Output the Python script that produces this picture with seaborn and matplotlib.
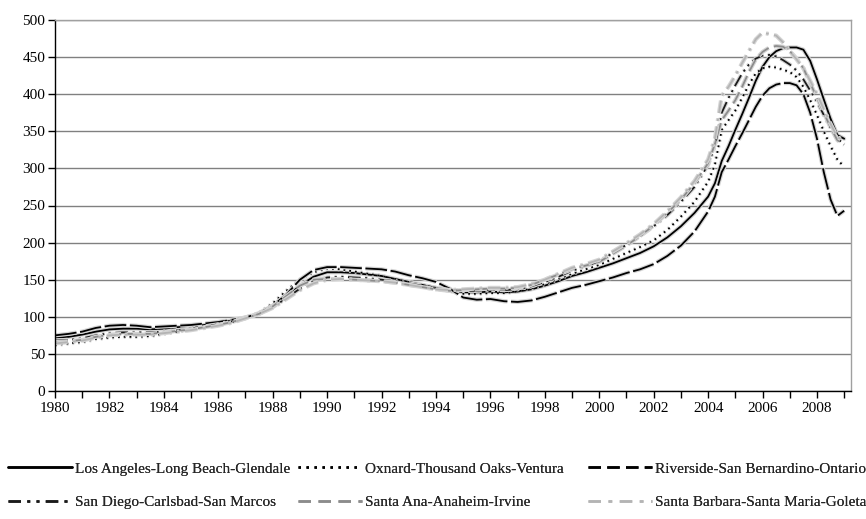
import numpy as np
import pandas as pd
import matplotlib
matplotlib.use("Agg")
import matplotlib.pyplot as plt
import matplotlib.patheffects as pe
from matplotlib.ticker import MultipleLocator, FuncFormatter
from matplotlib.lines import Line2D
import seaborn as sns

sns.set_style("white")
plt.rcParams["font.family"] = ["Liberation Serif", "DejaVu Serif"]

# time axis: half-years 1980-2003.5, quarters 2004-2009
years = list(np.arange(1980.0, 2004.0, 0.5)) + list(np.arange(2004.0, 2009.01, 0.25))

series_names = [
    "Los Angeles-Long Beach-Glendale",
    "Oxnard-Thousand Oaks-Ventura",
    "Riverside-San Bernardino-Ontario",
    "San Diego-Carlsbad-San Marcos",
    "Santa Ana-Anaheim-Irvine",
    "Santa Barbara-Santa Maria-Goleta",
]

los_angeles = [72, 73, 76, 80, 83, 84, 84, 83, 84, 86, 87, 89, 92, 95, 99, 104, 114, 127, 142, 154,
               160, 160, 159, 157, 155, 151, 147, 143, 139, 135, 133, 133, 134, 133, 134, 137, 142, 148, 155, 160,
               166, 172, 179, 186, 195, 207, 222, 240,
               262, 280, 310, 330, 352, 373, 395, 418, 437, 450, 458, 462, 463, 463, 460, 445, 420, 393, 367, 345, 340]
oxnard = [62, 64, 66, 70, 72, 73, 73, 74, 77, 80, 83, 86, 89, 93, 98, 105, 118, 135, 150, 160,
          165, 164, 161, 158, 155, 151, 147, 143, 139, 135, 131, 131, 132, 132, 134, 138, 144, 151, 158, 164,
          170, 178, 186, 194, 203, 217, 235, 255,
          282, 305, 352, 365, 378, 395, 413, 428, 435, 437, 436, 433, 430, 423, 410, 392, 372, 350, 330, 312, 302]
riverside = [75, 77, 80, 85, 88, 89, 88, 86, 87, 88, 89, 91, 93, 96, 99, 105, 115, 130, 150, 163,
             167, 167, 166, 165, 164, 161, 156, 152, 147, 138, 126, 123, 124, 121, 120, 122, 127, 133, 139, 143,
             148, 153, 159, 164, 171, 182, 196, 215,
             242, 262, 295, 312, 330, 347, 365, 383, 398, 408, 413, 415, 415, 412, 400, 375, 340, 295, 258, 236, 243]
san_diego = [68, 69, 71, 75, 78, 79, 79, 79, 80, 82, 84, 87, 90, 94, 99, 104, 113, 125, 138, 148,
             153, 154, 153, 152, 150, 148, 145, 142, 139, 136, 135, 135, 136, 136, 137, 141, 147, 154, 162, 168,
             175, 186, 197, 209, 222, 237, 255, 275,
             305, 330, 375, 395, 412, 428, 440, 448, 452, 453, 451, 446, 440, 432, 420, 405, 390, 372, 355, 340, 333]
santa_ana = [66, 67, 69, 73, 76, 77, 77, 77, 79, 81, 83, 86, 89, 93, 98, 104, 114, 128, 142, 150,
             151, 151, 150, 149, 148, 146, 143, 140, 137, 135, 136, 137, 138, 138, 139, 143, 150, 157, 164, 169,
             174, 185, 196, 209, 223, 240, 258, 280,
             307, 333, 365, 378, 392, 410, 430, 447, 457, 463, 465, 464, 458, 448, 435, 415, 395, 375, 355, 338, 332]
santa_barbara = [64, 66, 68, 72, 75, 76, 76, 76, 78, 80, 82, 85, 88, 92, 98, 104, 112, 124, 136, 145,
                 150, 151, 150, 149, 148, 146, 143, 140, 137, 136, 137, 138, 139, 139, 140, 144, 150, 158, 166, 171,
                 177, 188, 199, 211, 225, 242, 261, 283,
                 312, 340, 398, 410, 425, 442, 458, 474, 483, 481, 479, 470, 458, 447, 435, 418, 400, 380, 360, 342, 338]

series_values = [los_angeles, oxnard, riverside, san_diego, santa_ana, santa_barbara]
colors = ["#000000", "#000000", "#000000", "#1a1a1a", "#8c8c8c", "#b4b4b4"]
styles = ["-", (0, (1, 2.2)), (0, (12, 2)), (0, (7, 2.5, 1.2, 2.5, 1.2, 2.5)),
          (0, (7, 3)), (0, (7, 3, 1.5, 3))]
legend_styles = ["-", (0, (1, 2.2)), (0, (5, 2.5)), (0, (5, 2.5, 1.2, 2.5, 1.2, 2.5)),
                 (0, (5, 3)), (0, (5, 3, 1.5, 3))]

fig = plt.figure(figsize=(8.66, 5.19), dpi=100)
ax = fig.add_axes([55 / 866, 1 - 391 / 519, 796 / 866, 371 / 519])

halo = [pe.Stroke(linewidth=3.0, foreground="#d4d4d4"), pe.Normal()]
for name, vals, c, ls in zip(series_names, series_values, colors, styles):
    df = pd.DataFrame({"year": years, "value": vals})
    sns.lineplot(data=df, x="year", y="value", ax=ax, color=c, linestyle=ls,
                 linewidth=1.3, path_effects=halo, legend=False)

ax.set_xlim(1980, 2009.25)
ax.set_ylim(0, 500)
ax.set_xlabel("")
ax.set_ylabel("")
ax.yaxis.set_major_locator(MultipleLocator(50))
ax.xaxis.set_major_locator(MultipleLocator(1))
ax.xaxis.set_major_formatter(FuncFormatter(lambda v, p: f"{int(round(v))}" if int(round(v)) % 2 == 0 else ""))
ax.grid(axis="y", color="#808080", linewidth=1.0)
ax.set_axisbelow(True)
ax.tick_params(axis="both", direction="out", length=5, width=1, color="black",
               labelsize=11, labelcolor="black", pad=2)
ax.tick_params(axis="x", pad=3)
ax.tick_params(left=True, bottom=True)
for s in ["left", "bottom"]:
    ax.spines[s].set_color("black")
    ax.spines[s].set_linewidth(1.0)
for s in ["top", "right"]:
    ax.spines[s].set_color("#a0a0a0")
    ax.spines[s].set_linewidth(1.0)

# legend: three columns, each a separate legend with two rows
handles = [Line2D([0], [0], color=c, linestyle=ls, linewidth=1.8) for c, ls in zip(colors, legend_styles)]
col_x = [8 / 866, 298 / 866, 588 / 866]
for i in range(3):
    leg = fig.legend([handles[i], handles[i + 3]], [series_names[i], series_names[i + 3]],
                     loc="upper left", bbox_to_anchor=(col_x[i], 1 - 462 / 519),
                     frameon=False, fontsize=11, handlelength=4.2, handletextpad=0.2,
                     labelspacing=1.3, borderpad=0, borderaxespad=0)
    fig.add_artist(leg)

fig.savefig("out.png", dpi=100)
